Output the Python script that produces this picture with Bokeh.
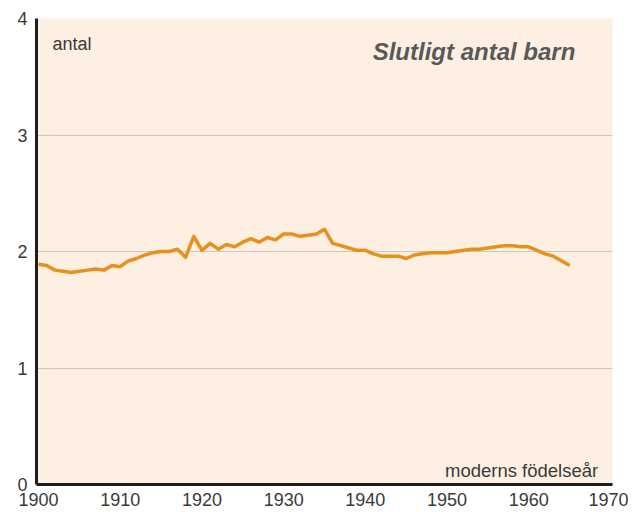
from bokeh.plotting import figure
from bokeh.models import FixedTicker, Label
from bokeh.embed import file_html
from bokeh.resources import INLINE

years = list(range(1900, 1966))
children = [
    1.89, 1.88, 1.84, 1.83, 1.82, 1.83, 1.84, 1.85, 1.84, 1.88,
    1.87, 1.92, 1.94, 1.97, 1.99, 2.00, 2.00, 2.02, 1.95, 2.13,
    2.01, 2.07, 2.02, 2.06, 2.04, 2.08, 2.11, 2.08, 2.12, 2.10,
    2.15, 2.15, 2.13, 2.14, 2.15, 2.19, 2.07, 2.05, 2.03, 2.01,
    2.01, 1.98, 1.96, 1.96, 1.96, 1.94, 1.97, 1.98, 1.99, 1.99,
    1.99, 2.00, 2.01, 2.02, 2.02, 2.03, 2.04, 2.05, 2.05, 2.04,
    2.04, 2.01, 1.98, 1.96, 1.92, 1.88,
]
x_ticks = [1900, 1910, 1920, 1930, 1940, 1950, 1960, 1970]
y_ticks = [0, 1, 2, 3, 4]

FONT = "Liberation Sans"
TXT = "#3a3a3a"

p = figure(
    width=628, height=510,
    x_range=(1899.75, 1970.25), y_range=(0, 4),
    output_backend="svg", toolbar_location=None,
    min_border_left=36, min_border_right=16,
    min_border_top=18, min_border_bottom=26,
)
p.background_fill_color = "#fdf0e2"
p.border_fill_color = "white"
p.outline_line_color = None

p.line(years, children, line_color="#e8901c", line_width=3.5, line_join="round")

p.xgrid.grid_line_color = None
p.ygrid.ticker = FixedTicker(ticks=y_ticks)
p.ygrid.grid_line_color = "#cbc6c0"
p.ygrid.grid_line_width = 1

for ax in (p.xaxis[0], p.yaxis[0]):
    ax.axis_line_color = "#1e1e1e"
    ax.axis_line_width = 3
    ax.major_tick_line_color = None
    ax.minor_tick_line_color = None
    ax.major_tick_out = 0
    ax.major_tick_in = 0
    ax.major_label_text_font = FONT
    ax.major_label_text_color = TXT

p.xaxis.ticker = FixedTicker(ticks=x_ticks)
p.yaxis.ticker = FixedTicker(ticks=y_ticks)
p.xaxis.major_label_text_font_size = "18px"
p.yaxis.major_label_text_font_size = "18px"
p.xaxis.major_label_standoff = 8
p.yaxis.major_label_standoff = 9

p.add_layout(Label(x=1901.7, y=3.785, text="antal", text_font=FONT,
                   text_font_size="18px", text_color=TXT, text_baseline="alphabetic"))
p.add_layout(Label(x=1965.7, y=3.717, text="Slutligt antal barn", text_font=FONT,
                   text_font_size="24px", text_font_style="bold italic",
                   text_color="#595959", text_align="right", text_baseline="alphabetic"))
p.add_layout(Label(x=1968.5, y=0.12, text="moderns födelseår", text_font=FONT,
                   text_font_size="18.5px", text_color=TXT, text_align="right",
                   text_baseline="alphabetic"))

open("out.html", "w").write(file_html(p, INLINE))
